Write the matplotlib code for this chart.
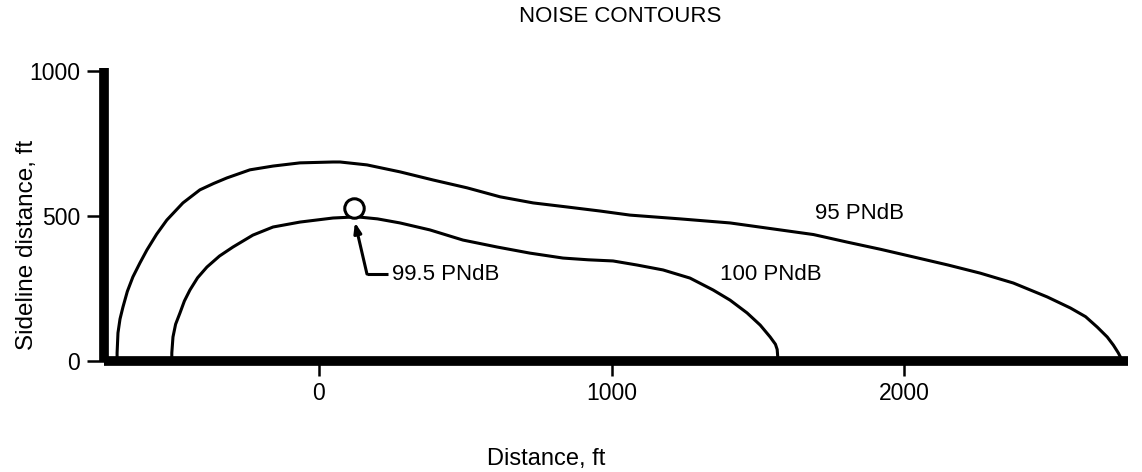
import matplotlib.pyplot as plt

plt.rcParams['font.family'] = ['Liberation Sans', 'DejaVu Sans']

# 95 PNdB contour (distance, sideline distance), ft
outer_x = [-690, -690, -687, -680, -670, -655, -636, -612, -588, -555, -520, -465,
           -407, -360, -315, -236, -157, -65, 48, 72, 164, 277, 390, 506, 619, 732,
           848, 961, 1063, 1234, 1405, 1576, 1690, 1805, 1920, 2031, 2150, 2260,
           2373, 2489, 2568, 2620, 2660, 2694, 2715, 2732, 2740, 2742]
outer_y = [0, 28, 97, 145, 186, 240, 290, 338, 383, 437, 486, 545,
           590, 612, 631, 659, 672, 683, 686, 686, 676, 652, 624, 597, 566, 545,
           531, 517, 503, 490, 476, 452, 436, 410, 385, 359, 331, 303,
           269, 221, 183, 153, 117, 83, 55, 28, 12, 0]

# 100 PNdB contour
inner_x = [-503, -503, -499, -490, -475, -460, -441, -415, -383, -340, -294, -226,
           -157, -65, 48, 130, 200, 277, 379, 492, 609, 721, 834, 920, 1005, 1087,
           1176, 1268, 1347, 1405, 1463, 1508, 1542, 1560, 1566, 1569]
inner_y = [0, 28, 83, 127, 166, 207, 245, 287, 324, 362, 393, 434,
           462, 479, 493, 497, 490, 476, 452, 417, 393, 372, 355, 349, 345, 331,
           314, 286, 245, 210, 166, 124, 83, 58, 40, 0]

# peak point
peak_x, peak_y = 120, 528

x_ticks = [0, 1000, 2000]
y_ticks = [0, 500, 1000]

fig = plt.figure(figsize=(11.42, 4.72), dpi=100)
ax = fig.add_axes([0.091, 0.235, 0.897, 0.621])

ax.plot(outer_x, outer_y, color='black', lw=2.2, solid_joinstyle='round')
ax.plot(inner_x, inner_y, color='black', lw=2.2, solid_joinstyle='round')
ax.plot(peak_x, peak_y, 'o', ms=14, mfc='white', mec='black', mew=2.2, zorder=5)

# leader from label to the peak point
ax.annotate('', xy=(123, 478), xytext=(164, 300),
            arrowprops=dict(arrowstyle='-|>,head_length=0.6,head_width=0.22',
                            color='black', lw=2.2, shrinkA=0, shrinkB=0))
ax.plot([164, 236], [300, 300], color='black', lw=2.2, solid_capstyle='butt')

ax.text(250, 297, '99.5 PNdB', fontsize=16, va='center', ha='left')
ax.text(1371, 297, '100 PNdB', fontsize=16, va='center', ha='left')
ax.text(1696, 510, '95 PNdB', fontsize=16, va='center', ha='left')

ax.set_xlim(-735, 2766)
ax.set_ylim(0, 1010)
ax.set_xticks(x_ticks)
ax.set_yticks(y_ticks)
ax.tick_params(axis='y', length=12, width=1.8, pad=5, labelsize=16.5)
ax.tick_params(axis='x', length=11, width=1.8, pad=4, labelsize=16.5)

for s in ['top', 'right']:
    ax.spines[s].set_visible(False)
for s in ['left', 'bottom']:
    ax.spines[s].set_linewidth(7)
    ax.spines[s].set_capstyle('butt')

ax.set_ylabel('Sideline distance, ft', fontsize=17.5)
ax.yaxis.set_label_coords(-0.075, 0.396)
ax.yaxis.label.set_va('center')
ax.set_xlabel('Distance, ft', fontsize=17)
ax.xaxis.set_label_coords(0.432, -0.334)
ax.xaxis.label.set_va('center')

fig.text(0.543, 0.966, 'NOISE CONTOURS', fontsize=16, ha='center', va='center')

fig.savefig('out.png', dpi=100)
